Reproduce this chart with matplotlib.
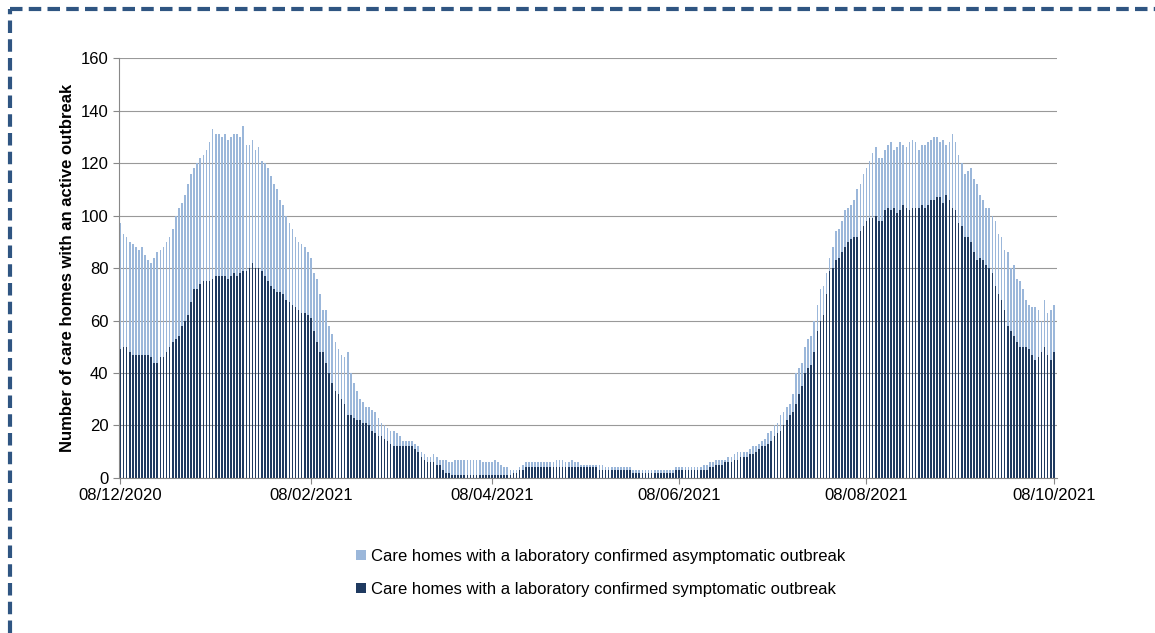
import numpy as np
import matplotlib.pyplot as plt

plt.rcParams['font.family'] = ['Liberation Sans', 'DejaVu Sans']

# daily totals (symptomatic + asymptomatic), from 08/12/2020
total = [
    97, 93, 92, 90, 89, 88, 87,
    88, 85, 83, 82, 84, 86, 87,
    88, 90, 92, 95, 100, 103, 105,
    108, 112, 116, 118, 120, 122, 123,
    125, 128, 133, 131, 131, 130, 131,
    129, 130, 131, 131, 130, 134, 127,
    127, 129, 125, 126, 121, 120, 118,
    115, 112, 110, 106, 104, 100, 97,
    95, 92, 90, 89, 88, 86, 84,
    78, 76, 70, 64, 64, 58, 55,
    52, 49, 47, 46, 48, 40, 36,
    33, 30, 29, 27, 27, 26, 25,
    23, 21, 20, 19, 18, 18, 17,
    16, 14, 14, 14, 14, 13, 12,
    10, 9, 8, 8, 9, 8, 7,
    7, 7, 6, 6, 7, 7, 7,
    7, 7, 7, 7, 7, 7, 6,
    6, 6, 6, 7, 6, 5, 4,
    4, 3, 3, 3, 4, 5, 6,
    6, 6, 6, 6, 6, 6, 6,
    6, 6, 7, 7, 7, 6, 6,
    7, 6, 6, 5, 5, 5, 5,
    5, 5, 5, 5, 4, 4, 4,
    4, 4, 4, 4, 4, 4, 3,
    3, 3, 3, 3, 3, 3, 3,
    3, 3, 3, 3, 3, 3, 4,
    4, 4, 4, 4, 4, 4, 4,
    4, 5, 5, 6, 6, 7, 7,
    7, 7, 8, 8, 9, 10, 10,
    10, 10, 11, 12, 12, 13, 14,
    15, 17, 18, 20, 21, 24, 25,
    27, 28, 32, 40, 42, 44, 50,
    53, 54, 60, 66, 72, 73, 78,
    84, 88, 94, 95, 98, 102, 103,
    104, 106, 110, 112, 116, 118, 121,
    124, 126, 122, 122, 125, 127, 128,
    125, 126, 128, 127, 126, 128, 129,
    128, 125, 127, 127, 128, 129, 130,
    130, 128, 129, 127, 128, 131, 128,
    123, 120, 116, 117, 118, 114, 112,
    108, 106, 103, 103, 100, 98, 93,
    92, 87, 86, 80, 81, 76, 75,
    72, 68, 66, 65, 65, 64, 60,
    68, 63, 64, 66,
]

symptomatic = [
    49, 50, 50, 48, 47, 47, 47,
    47, 47, 47, 46, 44, 44, 46,
    46, 48, 50, 52, 53, 54, 58,
    60, 62, 67, 72, 72, 74, 75,
    75, 75, 76, 77, 77, 77, 77,
    76, 77, 78, 77, 78, 79, 79,
    80, 82, 80, 80, 79, 77, 75,
    73, 72, 71, 71, 70, 68, 67,
    66, 65, 64, 63, 63, 62, 61,
    56, 52, 48, 48, 44, 40, 36,
    33, 32, 30, 28, 24, 24, 23,
    22, 22, 21, 21, 20, 18, 17,
    16, 16, 15, 14, 13, 12, 12,
    12, 12, 12, 12, 12, 11, 10,
    8, 7, 6, 6, 6, 5, 5,
    3, 2, 2, 1, 1, 1, 1,
    1, 1, 1, 1, 1, 1, 1,
    1, 1, 1, 1, 1, 1, 1,
    1, 1, 2, 2, 3, 3, 4,
    4, 4, 4, 4, 4, 4, 4,
    4, 4, 4, 4, 4, 4, 4,
    4, 4, 4, 4, 4, 4, 4,
    4, 4, 3, 3, 3, 3, 3,
    3, 3, 3, 3, 3, 3, 2,
    2, 2, 2, 2, 2, 2, 2,
    2, 2, 2, 2, 2, 2, 3,
    3, 3, 3, 3, 3, 3, 3,
    3, 3, 3, 4, 4, 5, 5,
    5, 6, 6, 6, 7, 7, 8,
    8, 8, 9, 9, 10, 11, 12,
    12, 13, 14, 16, 17, 18, 20,
    22, 24, 25, 28, 32, 35, 40,
    42, 43, 48, 56, 60, 62, 70,
    79, 80, 83, 84, 86, 88, 90,
    91, 92, 92, 94, 96, 98, 99,
    99, 100, 98, 98, 102, 103, 102,
    103, 101, 102, 104, 103, 102, 103,
    103, 103, 104, 103, 104, 106, 106,
    107, 107, 105, 108, 106, 103, 102,
    97, 96, 92, 92, 90, 86, 83,
    84, 83, 81, 80, 78, 73, 70,
    68, 64, 58, 56, 54, 52, 50,
    50, 50, 49, 47, 45, 46, 48,
    50, 47, 45, 48,
]

tick_days = [0, 62, 121, 182, 243, 304]
tick_labels = ["08/12/2020", "08/02/2021", "08/04/2021", "08/06/2021", "08/08/2021", "08/10/2021"]

total = np.array(total)
symptomatic = np.array(symptomatic)
asymptomatic = total - symptomatic
days = np.arange(len(total))

sym_col = "#1f3a60"
asym_col = "#9bb7da"

fig = plt.figure(figsize=(11.55, 6.33), dpi=100)
ax = fig.add_axes([0.103, 0.245, 0.812, 0.663])

ax.bar(days, symptomatic, width=0.55, color=sym_col, label="Care homes with a laboratory confirmed symptomatic outbreak")
ax.bar(days, asymptomatic, bottom=symptomatic, width=0.55, color=asym_col,
       label="Care homes with a laboratory confirmed asymptomatic outbreak")

ax.set_ylim(0, 160)
ax.set_yticks(range(0, 161, 20))
ax.set_xlim(-0.5, 305)
ax.set_xticks(tick_days)
ax.set_xticklabels(tick_labels)
ax.tick_params(labelsize=12, length=4, color="#888888")
ax.grid(axis="y", color="#999999", linewidth=0.8)
ax.set_axisbelow(True)
for s in ["top", "right"]:
    ax.spines[s].set_visible(False)
for s in ["left", "bottom"]:
    ax.spines[s].set_color("#888888")
ax.set_ylabel("Number of care homes with an active outbreak", fontsize=12, fontweight="bold")

h, l = ax.get_legend_handles_labels()
fig.legend(h[::-1], l[::-1], loc="center", bbox_to_anchor=(0.52, 0.095), frameon=False,
           fontsize=12, handlelength=0.6, handleheight=0.6, labelspacing=1.1, handletextpad=0.3)

# dashed frame on the left and top
border = "#2f5582"
fig.add_artist(plt.Line2D([0.009, 0.009], [0.0, 0.985], transform=fig.transFigure,
                          color=border, lw=3, ls=(0, (3, 1.5))))
fig.add_artist(plt.Line2D([0.009, 1.0], [0.985, 0.985], transform=fig.transFigure,
                          color=border, lw=3, ls=(0, (3, 1.5))))

fig.savefig("out.png")
